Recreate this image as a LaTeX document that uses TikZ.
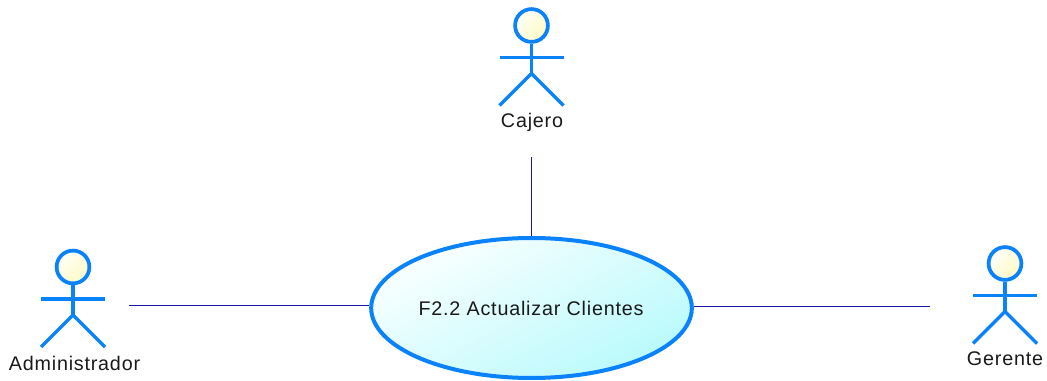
\documentclass[tikz,border=0pt]{standalone}
\usepackage{fontspec}
\setmainfont{Liberation Sans}
\usetikzlibrary{shapes.geometric}
\definecolor{actorblue}{RGB}{10,130,250}
\definecolor{linkblue}{RGB}{25,25,175}
\definecolor{headlight}{RGB}{255,255,250}
\definecolor{headdark}{RGB}{252,250,195}
\definecolor{uclight}{RGB}{250,255,255}
\definecolor{ucdark}{RGB}{185,250,252}
\tikzset{
  x=0.75pt,y=-0.75pt,
  limb/.style={draw=actorblue,line width=2.6pt},
  head/.style={circle,draw=actorblue,line width=2.8pt,minimum size=24.6pt,inner sep=0pt,
    shading=axis,left color=headlight,right color=headdark,shading angle=45},
  usecase/.style={ellipse,draw=actorblue,line width=3pt,minimum width=240.5pt,minimum height=105pt,inner sep=0pt,
    shading=axis,left color=uclight,right color=ucdark,shading angle=28},
  difflabel/.style={font=\fontsize{14.8}{17}\selectfont,inner sep=0pt,text=black!90},
  link/.style={draw=linkblue,line width=0.75pt},
  pics/actor/.style={code={
    \node[head] (-head) at (0,0) {};
    \coordinate (-neck) at (0,32);
    \coordinate (-hip) at (0,48);
    \coordinate (-armL) at (-32,32);
    \coordinate (-armR) at (32,32);
    \coordinate (-footL) at (-32,80);
    \coordinate (-footR) at (32,80);
    \draw[limb] (-head.south) -- (-hip);
    \draw[limb] (-armL) -- (-armR);
    \draw[limb] (-footL) -- (-hip) -- (-footR);
  }}
}
\begin{document}
\begin{tikzpicture}
\useasboundingbox (0,0) rectangle (1047,381);
\pic (cajero) at (531.5,25.5) {actor};
\pic (admin) at (73,267) {actor};
\pic (gerente) at (1005,263.5) {actor};
\node[difflabel] (cajeroLabel) at (532,122) {\addfontfeatures{LetterSpace=4}Cajero};
\node[difflabel] (adminLabel) at (74.5,363) {\addfontfeatures{LetterSpace=4}Administrador};
\node[difflabel] (gerenteLabel) at (1005,359) {\addfontfeatures{LetterSpace=4}Gerente};
\node[usecase] (uc) at (531.5,308) {};
\node[difflabel] (ucLabel) at (531,308) {\addfontfeatures{LetterSpace=4}F2.2 Actualizar Clientes};
\coordinate (cajeroEnd) at (531.5,157);
\coordinate (adminEnd) at (129,305.5);
\coordinate (gerenteEnd) at (930,307);
\draw[link] (cajeroEnd) -- (uc.north);
\draw[link] (adminEnd) -- (adminEnd -| uc.west);
\draw[link] (gerenteEnd) -- (gerenteEnd -| uc.east);
\end{tikzpicture}
\end{document}
